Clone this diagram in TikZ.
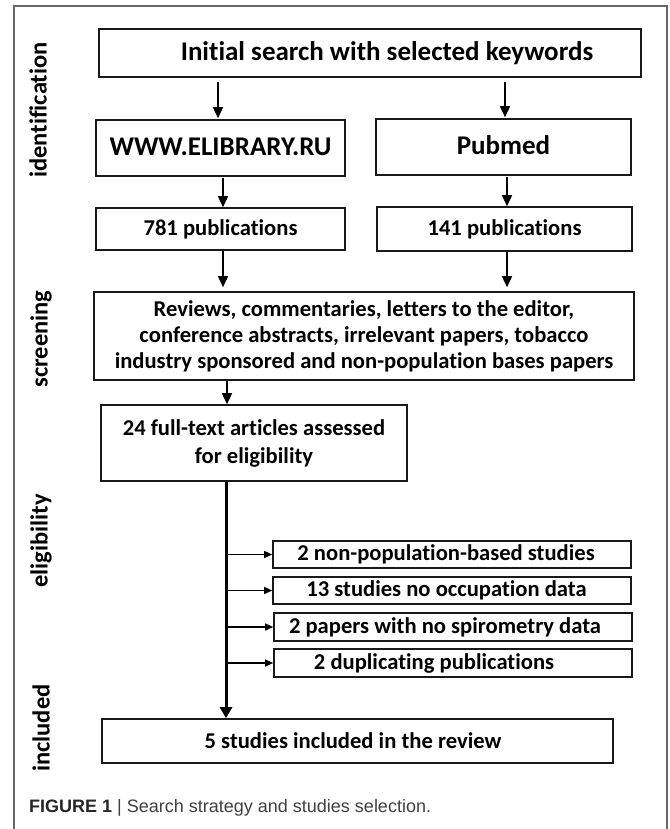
\documentclass[tikz,border=0pt]{standalone}
\usepackage{fontspec}
\setmainfont{Carlito}[Ligatures=NoCommon]
\newfontfamily\capfont{Liberation Sans}
\usetikzlibrary{arrows.meta,calc}
\begin{document}
\begin{tikzpicture}[x=1pt,y=-1pt,
  box/.style={draw=black!90,line width=1.6pt,inner sep=0pt,align=center,font=\bfseries},
  arr/.style={line width=1.5pt,-{Triangle[length=11pt,width=10pt]}},
  sarr/.style={line width=1.3pt,-{Triangle[length=8pt,width=7pt]}},
  stage/.style={rotate=90,font=\fontsize{24.5}{28}\selectfont\bfseries},
  frame/.style={draw=black!60,line width=1.2pt},
  bigtxt/.style={font=\fontsize{27}{30}\selectfont\bfseries},
  midtxt/.style={font=\fontsize{22.6}{26}\selectfont\bfseries}
]
\useasboundingbox (0,0) rectangle (669,829);
\fill[white] (0,0) rectangle (669,829);
\draw[frame] (14,829) -- (14,6) -- (667,6) -- (667,829);

% stage labels
\node[stage] (lid) at (38,110) {identification};
\node[stage] (lsc) at (41,339) {screening};
\node[stage] (lel) at (41,541) {eligibility};
\node[stage] (lin) at (41,728) {included};

% boxes
\node[box,bigtxt,minimum width=542pt,minimum height=48pt] (init) at (370,53) {\hspace*{34pt}Initial search with selected keywords};
\node[box,bigtxt,minimum width=249pt,minimum height=56pt] (www) at (220.5,148) {\raisebox{3pt}{WWW.ELIBRARY.RU}};
\node[box,bigtxt,minimum width=255pt,minimum height=56pt] (pub) at (503.5,147) {\raisebox{3pt}{Pubmed}};
\node[box,midtxt,minimum width=249pt,minimum height=42pt] (n781) at (220.5,229) {781 publications};
\node[box,midtxt,minimum width=255pt,minimum height=44pt] (n141) at (504.5,229) {141 publications};
\node[box,midtxt,minimum width=540pt,minimum height=88pt,font=\fontsize{22.6}{26}\selectfont\bfseries] (scr) at (364,336) {Reviews, commentaries, letters to the editor,\\conference abstracts, irrelevant papers, tobacco\\industry sponsored and non-population bases papers};
\node[box,midtxt,minimum width=306pt,minimum height=76pt,font=\fontsize{22.6}{28}\selectfont\bfseries] (full) at (254,443) {24 full-text articles assessed\\for eligibility};
\node[box,midtxt,minimum width=358pt,minimum height=27pt] (e1) at (452,554.5) {\hspace*{-12pt}2 non-population-based studies};
\node[box,midtxt,minimum width=358pt,minimum height=27pt] (e2) at (452,590.5) {\hspace*{-11pt}13 studies no occupation data};
\node[box,midtxt,minimum width=358pt,minimum height=28pt] (e3) at (453,627) {\hspace*{-16pt}2 papers with no spirometry data};
\node[box,midtxt,minimum width=358pt,minimum height=28pt] (e4) at (453,663) {\hspace*{-38pt}2 duplicating publications};
\node[box,midtxt,minimum width=511pt,minimum height=44pt] (five) at (357.5,741) {\hspace*{-9pt}5 studies included in the review};

% caption
\node[anchor=west,inner sep=0pt,font=\capfont\fontsize{18}{22}\selectfont,text=black!75] (cap) at (29,808) {{\color{black!85}\textbf{FIGURE 1}} | Search strategy and studies selection.};

% arrow x positions
\coordinate (xa) at (218,0);
\coordinate (xb) at (505,0);
\coordinate (xc) at (223,0);
\coordinate (xd) at (507,0);
\coordinate (xe) at (227,0);
\coordinate (xf) at (226,0);

\draw[arr,shorten <=4pt,shorten >=1pt] (init.south -| xa) -- (www.north -| xa);
\draw[arr,shorten <=4pt,shorten >=1pt] (init.south -| xb) -- (pub.north -| xb);
\draw[arr,shorten <=1pt] (www.south -| xc) -- (n781.north -| xc);
\draw[arr,shorten <=1pt] (pub.south -| xd) -- (n141.north -| xd);
\draw[arr,shorten >=4pt] (n781.south -| xc) -- (scr.north -| xc);
\draw[arr,shorten >=4pt] (n141.south -| xd) -- (scr.north -| xd);
\draw[arr] (scr.south -| xe) -- (full.north -| xe);
\draw[line width=3pt,-{Triangle[length=11pt,width=12pt]}] (full.south -| xf) -- (five.north -| xf);
\foreach \e in {e1,e2,e3,e4}{
  \draw[sarr] (\e.west -| xf) -- (\e.west);
}
\end{tikzpicture}
\end{document}
